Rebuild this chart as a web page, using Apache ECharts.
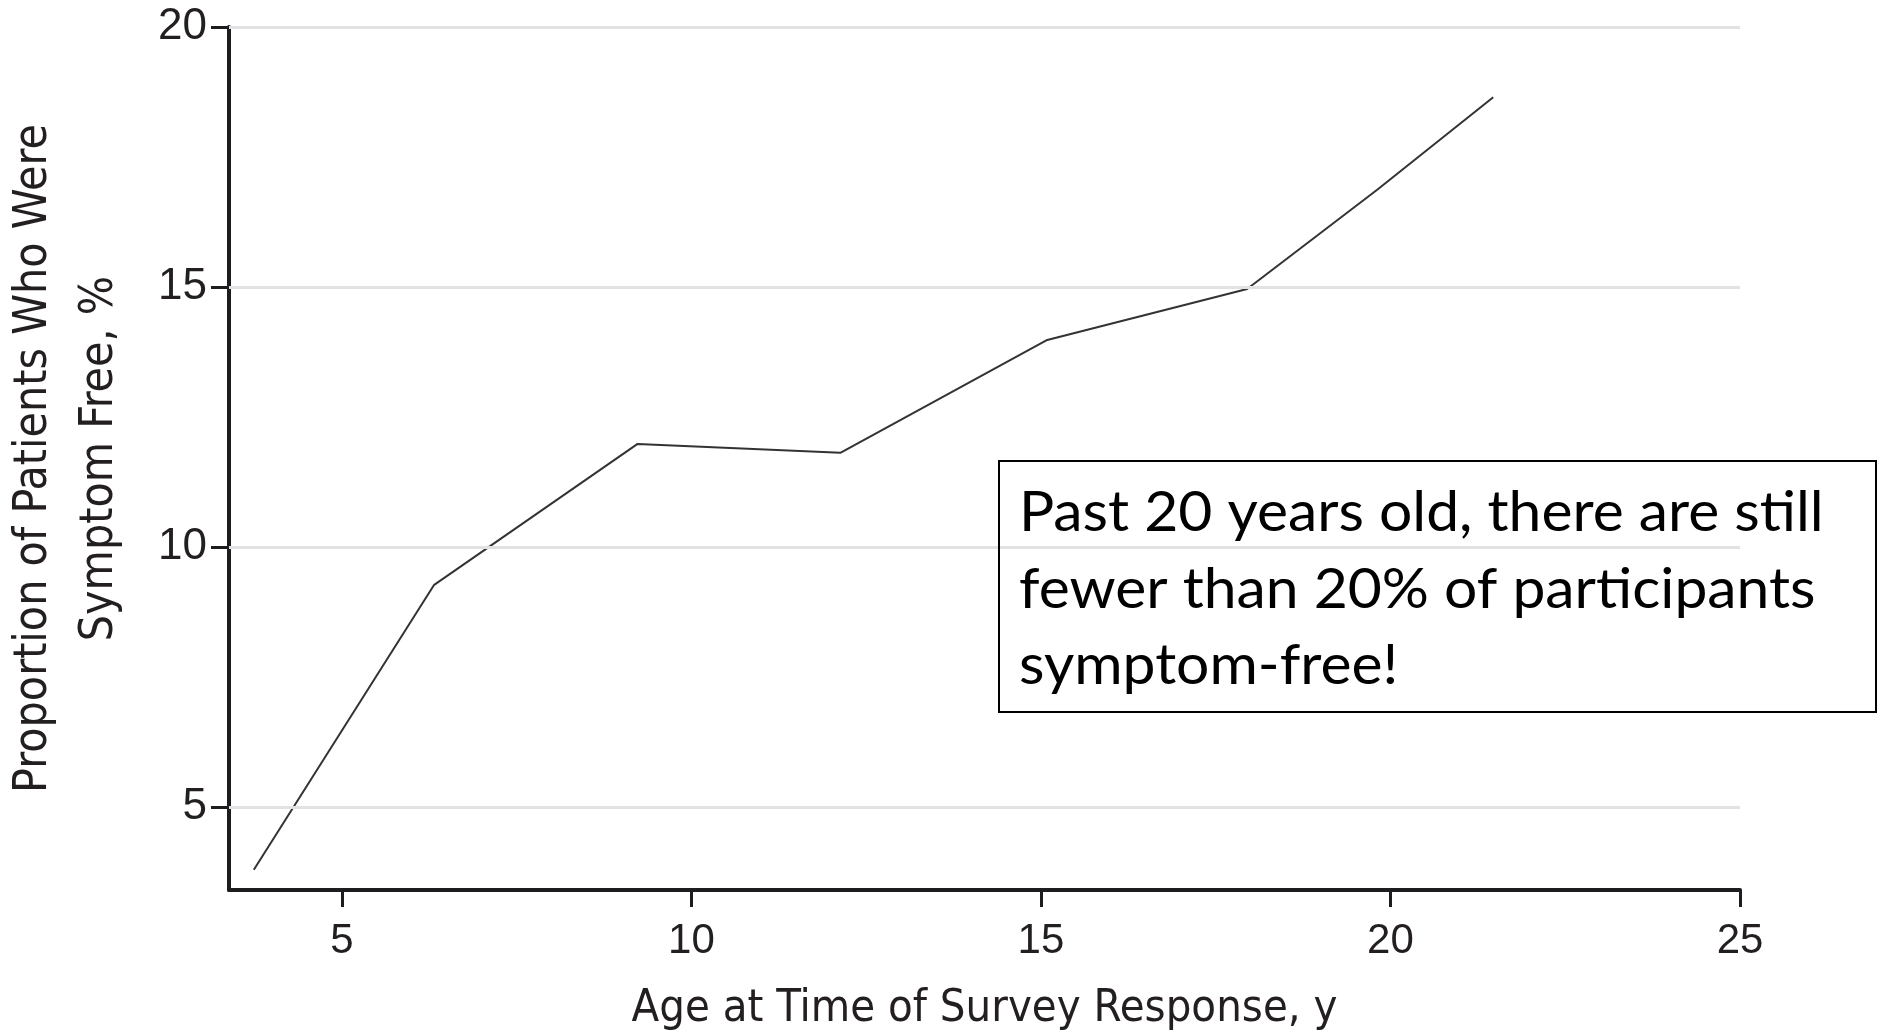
<!DOCTYPE html>
<html><head><meta charset="utf-8">
<script src="https://cdn.jsdelivr.net/npm/echarts@6/dist/echarts.min.js"></script>
<style>html,body{margin:0;padding:0;background:#fff}#c{width:1880px;height:1034px}</style>
</head><body><div id="c"></div>
<script>
const ages = [3.74, 6.32, 9.23, 12.13, 15.09, 17.95, 19.81, 21.47];
const symptomFree = [3.79, 9.27, 11.98, 11.81, 13.98, 14.96, 16.87, 18.65];
const xTicks = [5, 10, 15, 20, 25];
const yTicks = [5, 10, 15, 20];
const xAxisTitle = 'Age at Time of Survey Response, y';
const yAxisTitle = 'Proportion of Patients Who Were\nSymptom Free, %';
const note = 'Past 20 years old, there are still\nfewer than 20% of participants\nsymptom-free!';

const axisColor = '#1d1d1f';
const textColor = '#231f20';
const narrow = "'Liberation Sans Narrow', 'DejaVu Sans Condensed', 'Liberation Sans', sans-serif";

const chart = echarts.init(document.getElementById('c'), null, {renderer: 'canvas'});
const points = ages.map((a, i) => [a, symptomFree[i]]);

chart.setOption({
  animation: false,
  backgroundColor: '#fff',
  grid: {left: 229, right: 140, top: 27, bottom: 144, outerBoundsMode: 'none', containLabel: false},
  xAxis: {
    type: 'value', min: 3.385, max: 25,
    axisLine: {show: true, lineStyle: {color: axisColor, width: 4}},
    axisTick: {show: true, customValues: xTicks, length: 17, lineStyle: {color: axisColor, width: 3}},
    axisLabel: {customValues: xTicks, margin: 30, fontFamily: "'Liberation Sans', sans-serif", fontSize: 42, color: textColor},
    splitLine: {show: false},
    name: xAxisTitle, nameLocation: 'middle', nameGap: 97,
    nameTextStyle: {fontFamily: narrow, fontSize: 45, color: textColor}
  },
  yAxis: {
    type: 'value', min: 3.4, max: 20,
    axisLine: {show: true, lineStyle: {color: axisColor, width: 4}},
    axisTick: {show: true, customValues: yTicks, length: 18, lineStyle: {color: axisColor, width: 3}},
    axisLabel: {customValues: yTicks, margin: 22, fontFamily: "'Liberation Sans', sans-serif", fontSize: 44, color: textColor},
    splitLine: {show: false},
    name: yAxisTitle, nameLocation: 'middle', nameRotate: 90, nameGap: 96,
    nameTextStyle: {fontFamily: narrow, fontSize: 46, lineHeight: 66, color: textColor, align: 'center'}
  },
  series: [
    {
      type: 'line', data: points, symbol: 'none', z: 1,
      lineStyle: {opacity: 0}, silent: true,
      markLine: {
        silent: true, symbol: ['none', 'none'], label: {show: false},
        lineStyle: {color: '#e2e2e4', width: 3, type: 'solid'},
        data: yTicks.map(v => ({yAxis: v}))
      }
    },
    {
      type: 'line', data: points, symbol: 'none', z: 3,
      lineStyle: {color: '#333333', width: 2}
    }
  ],
  graphic: [
    {type: 'rect', shape: {x: 999, y: 461, width: 877, height: 251},
     style: {fill: 'none', stroke: '#000', lineWidth: 2}, z: 10},
    {type: 'text', x: 1019, y: 475, scaleX: 1.05,
     style: {text: note, font: "56px Lato, 'Open Sans', sans-serif", lineHeight: 76.5, fill: '#000',
             verticalAlign: 'top', align: 'left'}, z: 10}
  ]
});
</script></body></html>
